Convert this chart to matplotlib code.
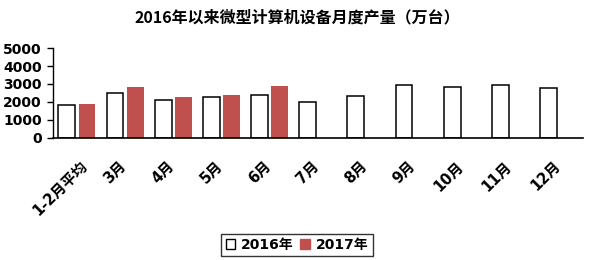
import matplotlib
matplotlib.use("Agg")
import matplotlib.pyplot as plt
import matplotlib.patches as mpatches
import matplotlib.transforms as mtransforms
import numpy as np

plt.rcParams['font.family'] = ['DejaVu Sans', 'Noto Sans CJK SC']

months = ['1-2月平均', '3月', '4月', '5月', '6月', '7月', '8月', '9月', '10月', '11月', '12月']
output_2016 = [1820, 2510, 2100, 2270, 2400, 2000, 2340, 2960, 2830, 2960, 2780]
output_2017 = [1910, 2850, 2290, 2400, 2900]
yticks = [0, 1000, 2000, 3000, 4000, 5000]

red = '#C0504D'

fig = plt.figure(figsize=(5.94, 2.6), dpi=100)
ax = fig.add_axes([0.089, 0.470, 0.892, 0.345])

x = np.arange(len(months))
w = 0.35
off = 0.21
ax.bar(x - off, output_2016, width=w, color='white', edgecolor='black', linewidth=1.1)
ax.bar(x[:len(output_2017)] + off, output_2017, width=w, color=red, edgecolor=red, linewidth=0)

ax.set_xlim(-0.5, len(months) - 0.5)
ax.set_ylim(0, 5000)
ax.set_yticks(yticks)
ax.set_yticklabels([str(v) for v in yticks], fontsize=10, fontweight='bold')
ax.set_xticks([])
ax.tick_params(axis='y', length=4, width=1, direction='out', pad=4)
for s in ['top', 'right']:
    ax.spines[s].set_visible(False)
ax.spines['left'].set_linewidth(1)
ax.spines['bottom'].set_linewidth(1.2)

# slanted month labels hung under each group; the long first one is pushed
# right so it stays inside the figure
for xi, m in zip(x, months):
    dx = 0.09 if xi == 0 else 0.0
    tr = ax.get_xaxis_transform() + mtransforms.ScaledTranslation(dx - 0.01, -0.26, fig.dpi_scale_trans)
    ax.text(xi, 0, m, transform=tr, rotation=45, ha='right', va='center',
            rotation_mode='anchor', fontsize=10.5, fontweight='bold',
            family=['DejaVu Sans', 'Noto Sans CJK SC'])

fig.text(0.5, 0.932, '2016年以来微型计算机设备月度产量（万台）', ha='center', va='center',
         fontsize=11.5, fontweight='bold', family=['Noto Sans CJK SC', 'DejaVu Sans'])

handles = [mpatches.Patch(facecolor='white', edgecolor='black', linewidth=1, label='2016年'),
           mpatches.Patch(facecolor=red, edgecolor=red, label='2017年')]
leg = fig.legend(handles=handles, loc='center', bbox_to_anchor=(0.5, 0.058), ncol=2,
                 frameon=True, fancybox=False, handlelength=0.7, handleheight=0.7,
                 handletextpad=0.4, columnspacing=0.5, borderpad=0.3,
                 prop={'family': ['DejaVu Sans', 'Noto Sans CJK SC'], 'weight': 'bold', 'size': 10})
leg.get_frame().set_edgecolor('black')
leg.get_frame().set_linewidth(1)

fig.savefig('out.png', dpi=100)
